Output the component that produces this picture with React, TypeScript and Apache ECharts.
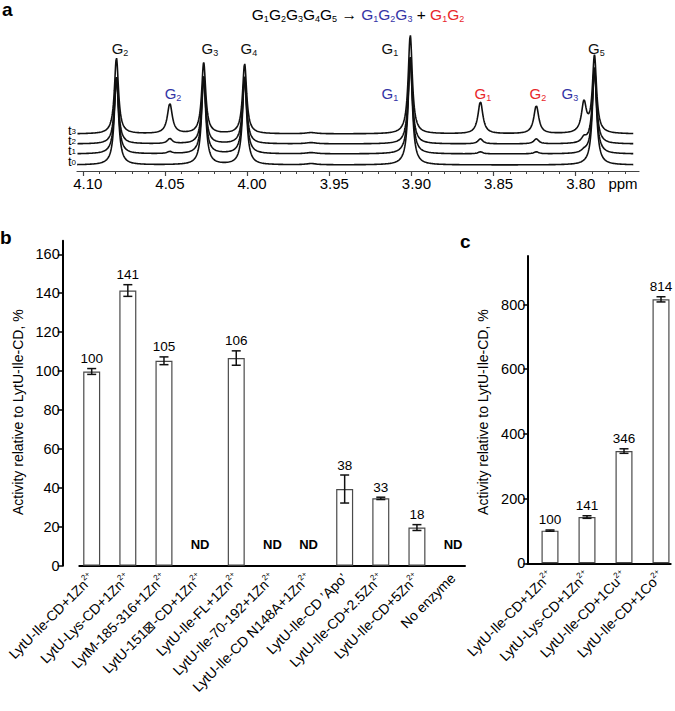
import React, { useEffect, useRef } from 'react';
import * as echarts from 'echarts';

const FONT = '"Liberation Sans", Arial, Helvetica, sans-serif';
const BLUE = '#3434a6';
const RED = '#e8262b';
const BLACK = '#111111';

// ---------------- Panel a (1H NMR spectra) ----------------
const ppmMin = 3.7615;
const ppmMax = 4.1035;
const spectrumStart = 3.765;
const spectrumEnd = 4.1035;
const spectrumStep = 0.0002;
const ppmMajorTicks = [4.1, 4.05, 4.0, 3.95, 3.9, 3.85, 3.8];
const ppmMinorTicks = [4.09, 4.08, 4.07, 4.06, 4.04, 4.03, 4.02, 4.01, 3.99, 3.98, 3.97, 3.96, 3.94, 3.93, 3.92, 3.91, 3.89, 3.88, 3.87, 3.86, 3.84, 3.83, 3.82, 3.81, 3.79, 3.78, 3.77];

const traceSubs = ['0', '1', '2', '3'];
const traceOffsets = [0, 11, 21, 31];

// peak centres (ppm) and half widths (ppm)
const peakPpm = [4.0795, 4.047, 4.0264, 4.0015, 3.961, 3.9007, 3.858, 3.824, 3.795, 3.7886];
const peakGamma = [0.0015, 0.0018, 0.0015, 0.0015, 0.004, 0.0015, 0.0018, 0.0018, 0.0018, 0.0015];
// peak heights per time point
const heightsT0 = [88, 0, 88, 88, 1.2, 108, 0, 0, 0, 97];
const heightsT1 = [77, 2, 77, 77, 1.2, 97, 2, 2, 2, 86];
const heightsT2 = [67, 5, 67, 67, 1.2, 87, 5, 5, 5, 76];
const heightsT3 = [76, 30, 71, 70, 1.2, 99, 32, 28, 30, 77];
const traceHeights = [heightsT0, heightsT1, heightsT2, heightsT3];

const peakLabelPpm = [4.0773, 4.0451, 4.0226, 3.9989, 3.9131, 3.9131, 3.8565, 3.823, 3.8036, 3.7874];
const peakLabelLevel = [117, 72, 117, 117, 117, 72, 72, 72, 72, 117];
const peakLabelSub = ['2', '2', '3', '4', '1', '1', '1', '2', '3', '5'];
const peakLabelColor = ['k', 'b', 'k', 'k', 'k', 'b', 'r', 'r', 'b', 'k'];

// ---------------- Panel b ----------------
const bCategories = [
  'LytU-Ile-CD+1Zn',
  'LytU-Lys-CD+1Zn',
  'LytM-185-316+1Zn',
  'LytU-151\u22A0-CD+1Zn',
  'LytU-Ile-FL+1Zn',
  'LytU-Ile-70-192+1Zn',
  'LytU-Ile-CD N148A+1Zn',
  'LytU-Ile-CD \u2019Apo\u2019',
  'LytU-Ile-CD+2.5Zn',
  'LytU-Ile-CD+5Zn',
  'No enzyme',
];
const bSuperscripts = ['2+', '2+', '2+', '2+', '2+', '2+', '2+', '', '2+', '2+', ''];
const bValues = [99.8, 141.4, 105.3, null, 106.7, null, null, 39.4, 34.6, 19.6, null];
const bErrors = [1.5, 3, 2, null, 3.7, null, null, 7.2, 0.6, 1.5, null];
const bLabels = ['100', '141', '105', 'ND', '106', 'ND', 'ND', '38', '33', '18', 'ND'];
const bTicks = [0, 20, 40, 60, 80, 100, 120, 140, 160];

// ---------------- Panel c ----------------
const cCategories = ['LytU-Ile-CD+1Zn', 'LytU-Lys-CD+1Zn', 'LytU-Ile-CD+1Cu', 'LytU-Ile-CD+1Co'];
const cSuperscripts = ['2+', '2+', '2+', '2+'];
const cValues = [101, 143, 347, 816];
const cErrors = [2, 4, 7, 8];
const cLabels = ['100', '141', '346', '814'];
const cTicks = [0, 200, 400, 600, 800];

const yName = 'Activity relative to LytU-Ile-CD, %';

function colorOf(c: string) {
  return c === 'b' ? BLUE : c === 'r' ? RED : BLACK;
}

function buildTrace(heights: number[], offset: number) {
  const pts: number[][] = [];
  const n = Math.round((spectrumEnd - spectrumStart) / spectrumStep);
  for (let k = 0; k <= n; k++) {
    const x = spectrumStart + k * spectrumStep;
    let y = offset;
    for (let p = 0; p < peakPpm.length; p++) {
      const g = peakGamma[p];
      const d = x - peakPpm[p];
      y += (heights[p] * g * g) / (d * d + g * g);
    }
    pts.push([x, y]);
  }
  return pts;
}

const supRich = {
  n: { fontSize: 14, fontFamily: FONT, color: '#000', lineHeight: 16 },
  s: { fontSize: 8, fontFamily: FONT, color: '#000', verticalAlign: 'top', lineHeight: 8 },
};

function catFormatter(cats: string[], sups: string[]) {
  return (v: number) => {
    const i = Math.round(v);
    if (i < 0 || i >= cats.length) return '';
    return `{n|${cats[i]}}` + (sups[i] ? `{s|${sups[i]}}` : '');
  };
}

function errorSeries(xi: number, yi: number, values: (number | null)[], errors: (number | null)[], labels: string[]) {
  return {
    type: 'custom',
    xAxisIndex: xi,
    yAxisIndex: yi,
    z: 10,
    silent: true,
    data: values.map((v, i) => [i, v == null ? 0 : v, errors[i] == null ? 0 : (errors[i] as number)]),
    renderItem: (params: any, api: any) => {
      const i = params.dataIndex;
      const x = api.value(0);
      const v = api.value(1);
      const e = api.value(2);
      const base = api.coord([x, 0]);
      if (values[i] == null) {
        return {
          type: 'text',
          x: base[0],
          y: base[1] - 21,
          style: {
            text: labels[i],
            fontSize: 13,
            fontWeight: 'bold',
            fontFamily: FONT,
            fill: '#000',
            align: 'center',
            verticalAlign: 'middle',
          },
        };
      }
      const top = api.coord([x, v + e]);
      const bot = api.coord([x, v - e]);
      const cap = 4.5;
      const ls = { stroke: BLACK, lineWidth: 1.5 };
      return {
        type: 'group',
        children: [
          { type: 'line', shape: { x1: top[0], y1: top[1], x2: bot[0], y2: bot[1] }, style: ls },
          { type: 'line', shape: { x1: top[0] - cap, y1: top[1], x2: top[0] + cap, y2: top[1] }, style: ls },
          { type: 'line', shape: { x1: bot[0] - cap, y1: bot[1], x2: bot[0] + cap, y2: bot[1] }, style: ls },
          {
            type: 'text',
            x: top[0],
            y: top[1] - 10,
            style: {
              text: labels[i],
              fontSize: 13.5,
              fontFamily: FONT,
              fill: '#000',
              align: 'center',
              verticalAlign: 'middle',
            },
          },
        ],
      };
    },
  };
}

function buildOption() {
  const traceSeries = traceHeights.map((h, i) => ({
    type: 'line',
    xAxisIndex: 0,
    yAxisIndex: 0,
    showSymbol: false,
    symbol: 'none',
    silent: true,
    lineStyle: { color: BLACK, width: 1.6 },
    data: buildTrace(h, traceOffsets[i]),
  }));

  const peakLabelSeries = {
    type: 'custom',
    xAxisIndex: 0,
    yAxisIndex: 0,
    silent: true,
    z: 10,
    data: peakLabelPpm.map((p, i) => [p, peakLabelLevel[i], i]),
    renderItem: (params: any, api: any) => {
      const i = params.dataIndex;
      const pt = api.coord([api.value(0), api.value(1)]);
      const c = colorOf(peakLabelColor[i]);
      return {
        type: 'text',
        x: pt[0],
        y: pt[1],
        style: {
          text: `{g|G}{s|${peakLabelSub[i]}}`,
          align: 'center',
          verticalAlign: 'middle',
          rich: {
            g: { fontSize: 15, fontFamily: FONT, fill: c, color: c, lineHeight: 18 },
            s: { fontSize: 9, fontFamily: FONT, fill: c, color: c, verticalAlign: 'bottom', lineHeight: 8 },
          },
        },
      };
    },
  };

  const traceLabelSeries = {
    type: 'custom',
    xAxisIndex: 0,
    yAxisIndex: 0,
    silent: true,
    z: 10,
    data: traceOffsets.map((o, i) => [ppmMax, o, i]),
    renderItem: (params: any, api: any) => {
      const i = params.dataIndex;
      const pt = api.coord([api.value(0), api.value(1)]);
      return {
        type: 'text',
        x: pt[0] - 1,
        y: pt[1] + 1,
        style: {
          text: `{t|t}{s|${traceSubs[i]}}`,
          align: 'right',
          verticalAlign: 'bottom',
          rich: {
            t: { fontSize: 13, fontFamily: FONT, fill: '#000', lineHeight: 9 },
            s: { fontSize: 8, fontFamily: FONT, fill: '#000', verticalAlign: 'bottom', lineHeight: 5 },
          },
        },
      };
    },
  };

  const title = {
    type: 'text',
    x: 358,
    y: 14,
    style: {
      text:
        '{k|G}{ks|1}{k|G}{ks|2}{k|G}{ks|3}{k|G}{ks|4}{k|G}{ks|5}{k| \u2192 }' +
        '{b|G}{bs|1}{b|G}{bs|2}{b|G}{bs|3}{k| + }{r|G}{rs|1}{r|G}{rs|2}',
      align: 'center',
      verticalAlign: 'middle',
      rich: {
        k: { fontSize: 15.5, fontFamily: FONT, fill: '#000', lineHeight: 18 },
        ks: { fontSize: 9, fontFamily: FONT, fill: '#000', verticalAlign: 'bottom', lineHeight: 8 },
        b: { fontSize: 15.5, fontFamily: FONT, fill: BLUE, lineHeight: 18 },
        bs: { fontSize: 9, fontFamily: FONT, fill: BLUE, verticalAlign: 'bottom', lineHeight: 8 },
        r: { fontSize: 15.5, fontFamily: FONT, fill: RED, lineHeight: 18 },
        rs: { fontSize: 9, fontFamily: FONT, fill: RED, verticalAlign: 'bottom', lineHeight: 8 },
      },
    },
  };

  const letter = (t: string, x: number, y: number) => ({
    type: 'text',
    x,
    y,
    style: { text: t, fontSize: 19, fontWeight: 'bold', fontFamily: FONT, fill: '#000', verticalAlign: 'bottom' },
  });

  const yAxisCommon = {
    type: 'value',
    splitLine: { show: false },
    axisLine: { show: true, onZero: false, lineStyle: { color: '#000', width: 2 } },
    nameLocation: 'middle',
  };

  return {
    animation: false,
    backgroundColor: '#fff',
    textStyle: { fontFamily: FONT },
    grid: [
      { left: 77, top: 25, width: 562, height: 146 },
      { left: 79.3, top: 240.7, width: 385.7, height: 325 },
      { left: 527.3, top: 256, width: 143.4, height: 307.3 },
    ],
    xAxis: [
      {
        gridIndex: 0,
        type: 'value',
        inverse: true,
        min: ppmMin,
        max: ppmMax,
        position: 'bottom',
        splitLine: { show: false },
        axisLine: { onZero: false, lineStyle: { color: '#444', width: 1.2 } },
        axisTick: { customValues: ppmMajorTicks, length: 5, lineStyle: { color: '#444', width: 1.2 } },
        axisLabel: {
          customValues: ppmMajorTicks,
          formatter: (v: number) => v.toFixed(2),
          fontSize: 15,
          fontFamily: FONT,
          color: '#000',
          margin: 5,
          padding: [0, 0, 0, 10],
        },
      },
      {
        gridIndex: 0,
        type: 'value',
        inverse: true,
        min: ppmMin,
        max: ppmMax,
        position: 'bottom',
        splitLine: { show: false },
        axisLine: { show: false, onZero: false },
        axisTick: { customValues: ppmMinorTicks, length: 3, lineStyle: { color: '#444', width: 1 } },
        axisLabel: { show: false },
      },
      {
        gridIndex: 1,
        type: 'value',
        min: -0.343,
        max: 10.33,
        splitLine: { show: false },
        axisLine: { onZero: false, lineStyle: { color: '#000', width: 2 } },
        axisTick: { show: false },
        axisLabel: {
          customValues: bCategories.map((_, i) => i),
          formatter: catFormatter(bCategories, bSuperscripts),
          rotate: 45,
          margin: 10,
          rich: supRich,
        },
      },
      {
        gridIndex: 2,
        type: 'value',
        min: -0.6135,
        max: 3.262,
        splitLine: { show: false },
        axisLine: { onZero: false, lineStyle: { color: '#000', width: 2 } },
        axisTick: { show: false },
        axisLabel: {
          customValues: cCategories.map((_, i) => i),
          formatter: catFormatter(cCategories, cSuperscripts),
          rotate: 45,
          margin: 10,
          rich: supRich,
        },
      },
    ],
    yAxis: [
      { gridIndex: 0, type: 'value', min: -6, max: 140, show: false },
      {
        ...yAxisCommon,
        gridIndex: 1,
        min: 0,
        max: 167,
        offset: 16.6,
        name: yName,
        nameGap: 35,
        nameTextStyle: { fontSize: 14, fontFamily: FONT, color: '#000', padding: [0, 18, 0, 0] },
        axisTick: { customValues: bTicks, length: 5, lineStyle: { color: '#000', width: 1.5 } },
        axisLabel: { customValues: bTicks, fontSize: 14.5, fontFamily: FONT, color: '#000', margin: 3 },
      },
      {
        ...yAxisCommon,
        gridIndex: 2,
        min: 0,
        max: 950,
        name: yName,
        nameGap: 37,
        nameTextStyle: { fontSize: 14, fontFamily: FONT, color: '#000', padding: [0, 5, 0, 0] },
        axisTick: { customValues: cTicks, length: 4, lineStyle: { color: '#000', width: 1.5 } },
        axisLabel: { customValues: cTicks, fontSize: 14.5, fontFamily: FONT, color: '#000', margin: 2 },
      },
    ],
    series: [
      ...traceSeries,
      peakLabelSeries,
      traceLabelSeries,
      {
        type: 'bar',
        xAxisIndex: 2,
        yAxisIndex: 1,
        barWidth: 17,
        silent: true,
        itemStyle: { color: '#fff', borderColor: '#4a4a4a', borderWidth: 1.2 },
        data: bValues.map((v, i) => [i, v]).filter((d) => d[1] != null),
      },
      errorSeries(2, 1, bValues, bErrors, bLabels),
      {
        type: 'bar',
        xAxisIndex: 3,
        yAxisIndex: 2,
        barWidth: 17,
        silent: true,
        itemStyle: { color: '#fff', borderColor: '#4a4a4a', borderWidth: 1.2 },
        data: cValues.map((v, i) => [i, v]),
      },
      errorSeries(3, 2, cValues, cErrors, cLabels),
    ],
    graphic: [
      title,
      letter('a', 2, 19),
      letter('b', 0, 247),
      letter('c', 460, 251),
      {
        type: 'text',
        x: 623,
        y: 183,
        style: { text: 'ppm', fontSize: 15, fontFamily: FONT, fill: '#000', align: 'center', verticalAlign: 'middle' },
      },
    ],
  };
}

export default function App() {
  const ref = useRef<HTMLDivElement>(null);
  useEffect(() => {
    const chart = echarts.init(ref.current as HTMLDivElement, null, { renderer: 'svg' });
    chart.setOption(buildOption() as any);
    return () => chart.dispose();
  }, []);
  return (
    <div
      ref={ref}
      style={{ position: 'absolute', left: 0, top: 0, width: 675, height: 711, background: '#fff' }}
    />
  );
}
